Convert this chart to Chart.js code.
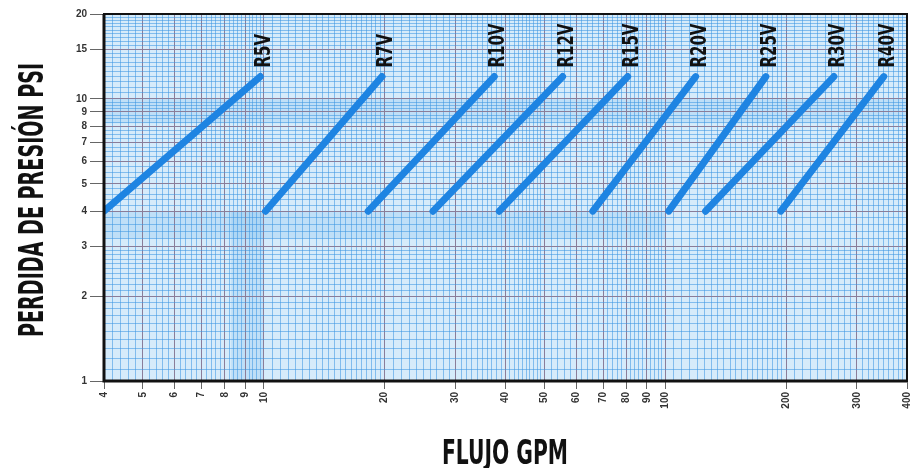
<!DOCTYPE html>
<html>
<head>
<meta charset="utf-8">
<script src="https://cdn.jsdelivr.net/npm/chart.js@4.4.1/dist/chart.umd.min.js"></script>
<style>
  html, body { margin: 0; padding: 0; background: #fff; }
  #wrap { width: 922px; height: 468px; }
</style>
</head>
<body>
<div id="wrap"><canvas id="lossChart" width="922" height="468"></canvas></div>
<script>
// models and their flow (GPM) at the low and high pressure loss
const models = ['R5V', 'R7V', 'R10V', 'R12V', 'R15V', 'R20V', 'R25V', 'R30V', 'R40V'];
const flowLow = [4.0, 10.1, 18.2, 26.4, 38.6, 66, 102, 126, 194];
const flowHigh = [9.8, 19.7, 37.5, 55.5, 80.6, 119, 178, 263, 350];
const psiPoints = [4, 12];

// tick labels
const flowTicks = [4, 5, 6, 7, 8, 9, 10, 20, 30, 40, 50, 60, 70, 80, 90, 100, 200, 300, 400];
const psiTicks = [1, 2, 3, 4, 5, 6, 7, 8, 9, 10, 15, 20];

// graph paper rulings [from, to, step]
const flowRulings = [[4, 10, 0.2], [10, 20, 0.5], [20, 50, 1], [50, 100, 2], [100, 200, 5], [200, 400, 10]];
const psiRulings = [[1, 3, 0.1], [3, 5, 0.2], [5, 10, 0.25], [10, 20, 0.5]];

const BLUE = '#1e84e2';
const MAJOR = '#8a7d99';
const MINOR = 'rgba(60,150,225,0.55)';
const NARROW = "'Liberation Sans Narrow', 'DejaVu Sans Condensed', 'Roboto Condensed', 'Liberation Sans', sans-serif";

function ruling(spec) {
    const out = [];
    spec.forEach(([a, b, s]) => {
        for (let v = a; v < b - 1e-9; v += s) out.push(Math.round(v * 1000) / 1000);
    });
    out.push(spec[spec.length - 1][1]);
    return [...new Set(out)];
}

const flowGrid = ruling(flowRulings);
const psiGrid = ruling(psiRulings);

function isMajor(list, tick) {
    return tick && list.includes(tick.value);
}

function fitText(ctx, text, x, y, width, font, angle) {
    ctx.save();
    ctx.font = font;
    const w = ctx.measureText(text).width;
    ctx.translate(x, y);
    ctx.rotate(angle);
    ctx.scale(width / w, 1);
    ctx.textAlign = 'center';
    ctx.textBaseline = 'alphabetic';
    ctx.fillStyle = '#111';
    ctx.fillText(text, 0, 0);
    ctx.restore();
}

// paper background, labels, frame and titles
const paper = {
    id: 'paper',
    beforeDraw(chart) {
        const { ctx, chartArea: a, scales: { x, y } } = chart;
        ctx.save();
        ctx.fillStyle = '#d6ebfa';
        ctx.fillRect(a.left, a.top, a.right - a.left, a.bottom - a.top);
        ctx.fillStyle = 'rgba(110,180,235,0.22)';
        ctx.fillRect(a.left, y.getPixelForValue(10), a.right - a.left, y.getPixelForValue(8.2) - y.getPixelForValue(10));
        ctx.fillRect(a.left, y.getPixelForValue(4), x.getPixelForValue(100) - a.left, y.getPixelForValue(3.2) - y.getPixelForValue(4));
        ctx.fillRect(x.getPixelForValue(8.3), y.getPixelForValue(4), x.getPixelForValue(10) - x.getPixelForValue(8.3), a.bottom - y.getPixelForValue(4));
        ctx.restore();
    },
    afterDatasetsDraw(chart) {
        const ctx = chart.ctx;
        ctx.save();
        ctx.font = 'bold 22px ' + NARROW;
        const k = 44 / ctx.measureText('R10V').width;
        ctx.fillStyle = '#111';
        ctx.textAlign = 'left';
        ctx.textBaseline = 'alphabetic';
        chart.data.datasets.forEach((ds, i) => {
            const p = chart.getDatasetMeta(i).data[1];
            ctx.save();
            ctx.translate(p.x + 10, p.y - 9);
            ctx.rotate(-Math.PI / 2);
            ctx.scale(k, 1);
            ctx.fillText(ds.label, 0, 0);
            ctx.restore();
        });
        ctx.restore();
    },
    afterDraw(chart) {
        const { ctx, chartArea: a } = chart;
        ctx.save();
        ctx.strokeStyle = '#111';
        ctx.lineWidth = 2;
        ctx.strokeRect(a.left, a.top, a.right - a.left, a.bottom - a.top);
        ctx.lineWidth = 3;
        ctx.beginPath();
        ctx.moveTo(a.left, a.top);
        ctx.lineTo(a.left, a.bottom);
        ctx.lineTo(a.right, a.bottom);
        ctx.stroke();
        ctx.restore();
        fitText(ctx, 'FLUJO GPM', 505, 464, 126, 'bold 34px ' + NARROW, 0);
        fitText(ctx, 'PERDIDA DE PRESIÓN PSI', 43, 200, 274, 'bold 33px ' + NARROW, -Math.PI / 2);
    }
};

const datasets = models.map((m, i) => ({
    label: m,
    data: [{ x: flowLow[i], y: psiPoints[0] }, { x: flowHigh[i], y: psiPoints[1] }],
    borderColor: BLUE,
    borderWidth: 7,
    borderCapStyle: 'round',
    pointRadius: 0,
    fill: false,
    tension: 0
}));

const tickFont = { family: "'Liberation Sans', Arial, sans-serif", size: 10, weight: 'bold' };

new Chart(document.getElementById('lossChart'), {
    type: 'line',
    data: { datasets: datasets },
    options: {
        responsive: false,
        animation: false,
        devicePixelRatio: 1,
        layout: { padding: { top: 14, right: 14, left: 0, bottom: 0 } },
        plugins: { legend: { display: false }, tooltip: { enabled: false } },
        scales: {
            x: {
                type: 'logarithmic',
                min: 4,
                max: 400,
                afterBuildTicks: s => { s.ticks = flowGrid.map(v => ({ value: v })); },
                afterFit: s => { s.height = 87; },
                border: { display: false },
                grid: {
                    color: c => isMajor(flowTicks, c.tick) ? MAJOR : MINOR,
                    lineWidth: 1,
                    tickLength: 8,
                    tickColor: c => isMajor(flowTicks, c.tick) ? '#666' : 'rgba(0,0,0,0)'
                },
                ticks: {
                    autoSkip: false,
                    minRotation: 90,
                    maxRotation: 90,
                    padding: 3,
                    color: '#333',
                    font: tickFont,
                    callback: v => flowTicks.includes(v) ? String(v) : ''
                }
            },
            y: {
                type: 'logarithmic',
                min: 1,
                max: 20,
                afterBuildTicks: s => { s.ticks = psiGrid.map(v => ({ value: v })); },
                afterFit: s => { s.width = 104; },
                border: { display: false },
                grid: {
                    color: c => isMajor(psiTicks, c.tick) ? MAJOR : MINOR,
                    lineWidth: 1,
                    tickLength: 14,
                    tickColor: c => isMajor(psiTicks, c.tick) ? '#666' : 'rgba(0,0,0,0)'
                },
                ticks: {
                    autoSkip: false,
                    padding: 3,
                    color: '#333',
                    font: tickFont,
                    callback: v => psiTicks.includes(v) ? String(v) : ''
                }
            }
        }
    },
    plugins: [paper]
});
</script>
</body>
</html>
